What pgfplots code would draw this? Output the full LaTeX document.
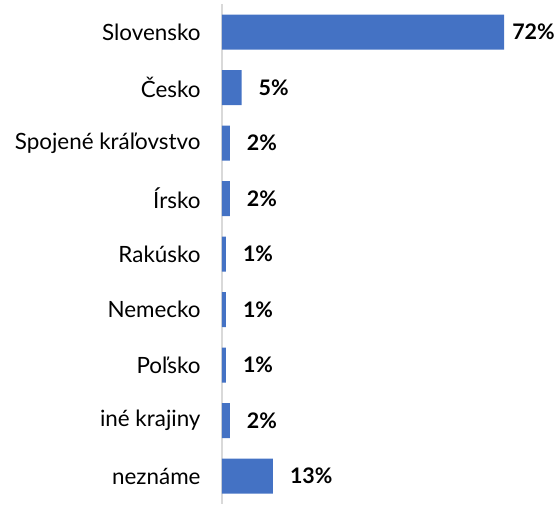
\documentclass[border=0pt]{standalone}
\usepackage{fontspec}
\setmainfont{Lato}
\usepackage{pgfplots}
\pgfplotsset{compat=1.18}
\definecolor{barBlue}{RGB}{68,114,196}
\definecolor{axGray}{RGB}{217,217,217}

\begin{document}
\begin{tikzpicture}
\begin{axis}[
    at={(0,0)}, anchor=north west,
    scale only axis,
    width=335bp, height=499.5bp,
    xbar, bar width=35bp, bar shift=0pt,
    xmin=0, xmax=85.5,
    ymin=-0.5, ymax=8.5,
    y dir=reverse,
    axis x line=none,
    axis y line*=left,
    axis line style={-, draw=axGray, line width=2bp},
    ytick={0,...,8},
    yticklabels={Slovensko, Česko, Spojené kráľovstvo, Írsko, Rakúsko,
                 Nemecko, Poľsko, iné krajiny, neznáme},
    ytick style={draw=none},
    yticklabel style={font=\fontsize{22.5}{26}\selectfont, inner sep=0pt, xshift=-17bp},
    /pgf/number format/assume math mode=true,
    nodes near coords={\pgfmathprintnumber{\pgfplotspointmeta}\%},
    point meta=x,
    visualization depends on={rawx \as \rawx},
    every node near coord/.append style={font=\bfseries\fontsize{21.5}{25}\selectfont,
        anchor=west, inner sep=0pt, xshift={\rawx>50 ? 8 : 17}},
    clip=false,
]
\addplot[fill=barBlue, draw=none] coordinates {
    (72,0) (5,1) (2,2) (2,3) (1,4) (1,5) (1,6) (2,7) (13,8)};
\end{axis}
\path[use as bounding box] (-222bp,4.3bp) rectangle (335bp,-491.7bp);
\end{tikzpicture}
\end{document}
